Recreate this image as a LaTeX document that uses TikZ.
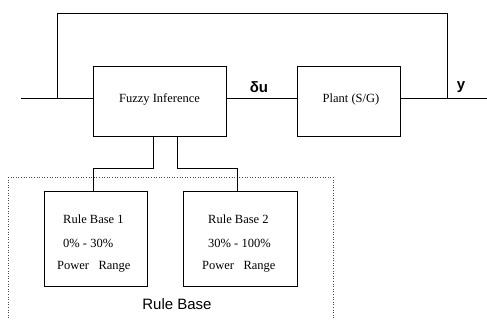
\documentclass[tikz,border=0pt]{standalone}
\usepackage{fontspec}
\setmainfont{Liberation Serif}
\setsansfont{Liberation Sans}
\begin{document}
\begin{tikzpicture}[x=1pt,y=-1pt,
  blk/.style={draw,line width=1pt,inner sep=0pt},
  wire/.style={line width=0.9pt},
  txt/.style={font=\fontsize{12.5}{14}\selectfont,inner sep=0pt},
  lbl/.style={font=\fontsize{15}{17}\selectfont\sffamily\bfseries,inner sep=0pt},
  grp/.style={draw=black!70,line width=0.6pt,dotted}]
\useasboundingbox (0,0) rectangle (487,320);
% blocks
\node[blk,minimum width=133,minimum height=70] (fi) at (159.5,102) {};
\node[txt] (fit) at (159.5,99) {Fuzzy Inference};
\node[blk,minimum width=103,minimum height=70] (pl) at (348.5,102) {};
\node[txt] (plt) at (351,99) {Plant (S/G)};
% rule base group
\draw[grp] (8,177) -- (333,177) -- (333,322);
\draw[grp] (8,177) -- (8,322);
\node[blk,minimum width=103,minimum height=94] (rb1) at (95.5,239) {};
\node[blk,minimum width=114,minimum height=94] (rb2) at (240,239) {};
\node[txt,anchor=west] (r1a) at (63,219) {Rule Base 1};
\node[txt,anchor=west] (r1b) at (63,243) {0\% - 30\%};
\node[txt,anchor=west] (r1c) at (57,267) {Power\ \ \ Range};
\node[txt,anchor=west] (r2a) at (208,219) {Rule Base 2};
\node[txt,anchor=west] (r2b) at (208,243) {30\% - 100\%};
\node[txt,anchor=west] (r2c) at (202,267) {Power\ \ \ Range};
\node[font=\fontsize{15}{17}\selectfont\sffamily,inner sep=0pt] (rbl) at (177,304) {Rule Base};
% coordinates
\coordinate (in) at (21,98);
\coordinate (fb1) at (57,98);
\coordinate (fb2) at (447,98);
\coordinate (out) at (487,98);
\coordinate (fiin) at (fi.west |- in);
\coordinate (fiout) at (fi.east |- in);
\coordinate (plin) at (pl.west |- in);
\coordinate (plout) at (pl.east |- in);
% wires
\draw[wire] (in) -- (fiin);
\draw[wire] (fiout) -- (plin);
\draw[wire] (plout) -- (out);
\draw[wire] (fb1) -- (57,13) -- (447,13) -- (fb2);
\draw[wire] (153,137) -- (153,168) -- (93,168) -- (93,192);
\draw[wire] (177,137) -- (177,168) -- (237,168) -- (237,192);
% labels
\node[lbl] (du) at (259,87) {δu};
\node[lbl] (yl) at (461,87) {y};
\end{tikzpicture}
\end{document}
